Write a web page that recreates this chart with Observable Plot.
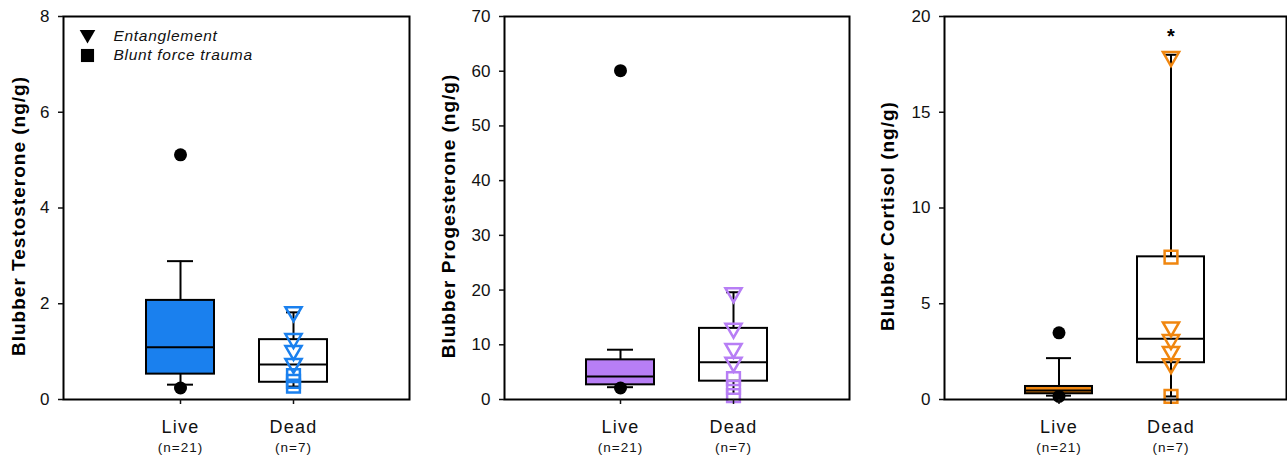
<!DOCTYPE html>
<html><head><meta charset="utf-8">
<script src="https://cdn.jsdelivr.net/npm/d3@7"></script>
<script src="https://cdn.jsdelivr.net/npm/@observablehq/plot@0.6"></script>
<style>
body{margin:0;background:#fff;}
#wrap{position:relative;width:1287px;height:462px;overflow:hidden;}
.panel{position:absolute;top:0;}
</style></head><body><div id="wrap"></div>
<script>
// ---- data ----
const groups = ["Live", "Dead"];
const groupN = ["(n=21)", "(n=7)"];
const yTitles = ["Blubber Testosterone (ng/g)", "Blubber Progesterone (ng/g)", "Blubber Cortisol (ng/g)"];
const yMax = [8, 70, 20];
const yTicks = [[0, 2, 4, 6, 8], [0, 10, 20, 30, 40, 50, 60, 70], [0, 5, 10, 15, 20]];
const liveLow    = [0.31, 2.25, 0.20];
const liveQ1     = [0.53, 2.68, 0.30];
const liveMedian = [1.09, 4.20, 0.47];
const liveQ3     = [2.07, 7.25, 0.68];
const liveHigh   = [2.89, 9.10, 2.16];
const deadLow    = [0.27, 1.00, 0.16];
const deadQ1     = [0.36, 3.35, 1.92];
const deadMedian = [0.73, 6.80, 3.17];
const deadQ3     = [1.25, 13.0, 7.45];
const deadHigh   = [1.82, 19.6, 18.0];
const liveOutliers = [[5.11, 0.24], [60.1, 2.1], [3.48, 0.16]];
const deadEntanglement = [[1.83, 1.27, 1.02, 0.75], [19.5, 13.0, 9.3, 6.8], [17.9, 3.78, 3.12, 2.5, 1.86]];
const deadBluntTrauma = [[0.50, 0.38, 0.28], [3.8, 2.2, 0.7], [7.43, 0.16]];
const legendLabels = ["Entanglement", "Blunt force trauma"];
const significantGroups = [[], [], ["Dead"]];

// ---- layout / style ----
const colors = ["#1a80ee", "#b77ef5", "#f0860f"];
const panelLeft = [0, 430, 860], panelWidth = [430, 430, 427];
const mLeft = [63, 74, 84], mRight = [21, 11, 1];
const titleX = [18, 18, 27];
const font = "'Liberation Sans', Arial, sans-serif";

const wrap = document.getElementById("wrap");
for (let i = 0; i < 3; i++) {
  const boxes = groups.map((g, j) => ({
    group: g,
    low: (j ? deadLow : liveLow)[i], q1: (j ? deadQ1 : liveQ1)[i],
    median: (j ? deadMedian : liveMedian)[i], q3: (j ? deadQ3 : liveQ3)[i],
    high: (j ? deadHigh : liveHigh)[i]
  }));
  const live = boxes.filter(d => d.group === "Live");
  const dead = boxes.filter(d => d.group === "Dead");
  const nData = groups.map((g, j) => ({group: g, n: groupN[j]}));
  const marks = [
    Plot.ruleX(boxes, {x: "group", y1: "low", y2: "high", stroke: "#000", strokeWidth: 2}),
    Plot.tickY(live, {x: "group", y: "low", stroke: "#000", strokeWidth: 2, insetLeft: 21, insetRight: 21}),
    Plot.tickY(live, {x: "group", y: "high", stroke: "#000", strokeWidth: 2, insetLeft: 21, insetRight: 21}),
    Plot.tickY(dead, {x: "group", y: "low", stroke: "#000", strokeWidth: 2, insetLeft: 27, insetRight: 27}),
    Plot.tickY(dead, {x: "group", y: "high", stroke: "#000", strokeWidth: 2, insetLeft: 27, insetRight: 27}),
    Plot.barY(live, {x: "group", y1: "q1", y2: "q3", fill: colors[i], stroke: "#000", strokeWidth: 2}),
    Plot.barY(dead, {x: "group", y1: "q1", y2: "q3", fill: "#fff", stroke: "#000", strokeWidth: 2}),
    Plot.tickY(boxes, {x: "group", y: "median", stroke: "#000", strokeWidth: 2}),
    Plot.dot(liveOutliers[i], {x: () => "Live", y: d => d, r: 6.5, fill: "#000", stroke: "none"}),
    Plot.dot(deadEntanglement[i], {x: () => "Dead", y: d => d, symbol: "triangle", rotate: 180, r: 6, fill: "none", stroke: colors[i], strokeWidth: 2.5}),
    Plot.dot(deadBluntTrauma[i], {x: () => "Dead", y: d => d, symbol: "square", r: 7.2, fill: "none", stroke: colors[i], strokeWidth: 2.5}),
    Plot.frame({stroke: "#000", strokeWidth: 2}),
    Plot.axisY({ticks: yTicks[i], tickSize: 5, tickPadding: 9, fontSize: 17, strokeWidth: 1.5, label: null, color: "#111"}),
    Plot.axisX({tickSize: 5, tickPadding: 16, fontSize: 18, strokeWidth: 1.5, label: null, color: "#111"}),
    Plot.text(nData, {x: "group", text: "n", frameAnchor: "bottom", dy: 52, fontSize: 13.5, fill: "#111"}),
    Plot.text([yTitles[i]], {text: d => d, frameAnchor: "left", textAnchor: "middle", rotate: -90, dx: titleX[i] - mLeft[i], dy: 8, fontSize: 19, fontWeight: "bold", fill: "#000"}),
    Plot.text(significantGroups[i], {x: d => d, text: () => "*", frameAnchor: "top", lineAnchor: "top", dy: 12, fontSize: 20, fontWeight: "bold", fill: "#000"})
  ];
  if (i === 0) {
    marks.push(
      Plot.dot([legendLabels[0]], {frameAnchor: "top-left", dx: 24, dy: 18, symbol: "triangle", rotate: 180, r: 5.8, fill: "#000"}),
      Plot.dot([legendLabels[1]], {frameAnchor: "top-left", dx: 24, dy: 39, symbol: "square", r: 7.4, fill: "#000"}),
      Plot.text(legendLabels.slice(0, 1), {text: d => d, frameAnchor: "top-left", dx: 50, dy: 20, lineAnchor: "middle", textAnchor: "start", fontSize: 15.5, fontStyle: "italic", fill: "#111"}),
      Plot.text(legendLabels.slice(1, 2), {text: d => d, frameAnchor: "top-left", dx: 50, dy: 38.5, lineAnchor: "middle", textAnchor: "start", fontSize: 15.5, fontStyle: "italic", fill: "#111"})
    );
  }
  const svg = Plot.plot({
    width: panelWidth[i], height: 462,
    marginLeft: mLeft[i], marginRight: mRight[i], marginTop: 16, marginBottom: 63,
    style: {fontFamily: font, background: "transparent", overflow: "visible"},
    x: {type: "band", domain: groups, paddingInner: 0.4, paddingOuter: 0.718, align: 0.5},
    y: {domain: [0, yMax[i]]},
    marks
  });
  const s = d3.select(svg);
  const spacing = t => yTitles.includes(t) ? "1px" : groups.includes(t) ? "1.2px" : groupN.includes(t) ? "1px" : legendLabels.includes(t) ? "0.7px" : null;
  s.selectAll("text").each(function () {
    const ls = spacing(this.textContent);
    if (ls) this.style.letterSpacing = ls;
  });
  const div = document.createElement("div");
  div.className = "panel";
  div.style.left = panelLeft[i] + "px";
  div.appendChild(svg);
  wrap.appendChild(div);
}
</script>
</body></html>
